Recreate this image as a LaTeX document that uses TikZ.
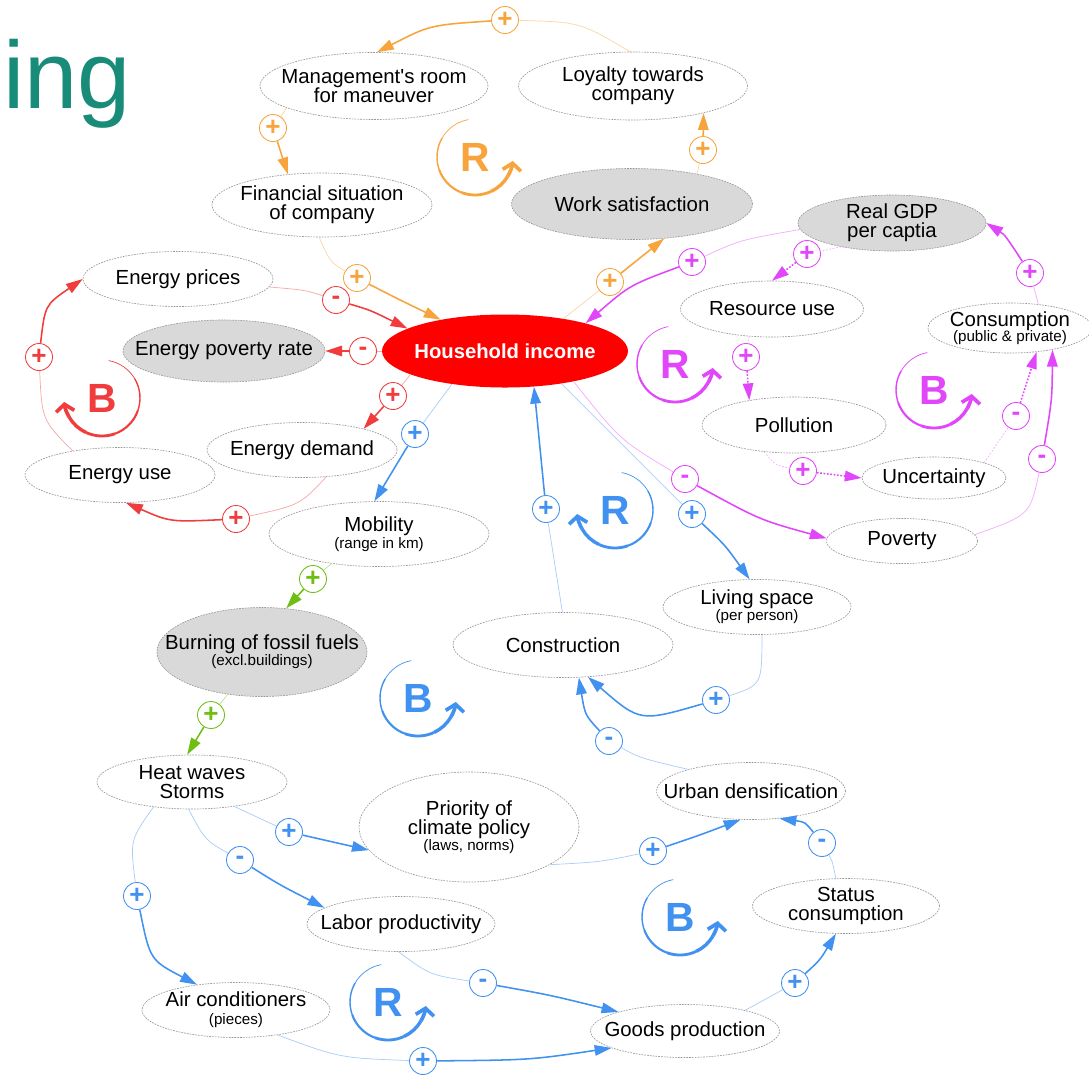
\documentclass[tikz,border=0pt]{standalone}
\usepackage{fontspec}
\setmainfont{Liberation Sans}[Ligatures=TeXOff]
\usetikzlibrary{shapes.geometric,arrows.meta,calc}
\definecolor{corange}{RGB}{247,164,60}
\definecolor{cred}{RGB}{240,60,60}
\definecolor{cblue}{RGB}{64,145,240}
\definecolor{cgreen}{RGB}{110,190,20}
\definecolor{cpink}{RGB}{225,70,250}
\definecolor{cgray}{RGB}{217,217,217}
\definecolor{cteal}{RGB}{24,140,120}
\definecolor{hhred}{RGB}{255,0,0}
\definecolor{bordergray}{RGB}{150,150,150}
\newcommand{\smallf}{\fontsize{10.8}{11}\selectfont}
\newcommand{\loopccw}[5]{%
  \node[looplet, text=#5] (#1) at (#2,#3) {#4};
  \foreach \sa/\ea/\lw in {-100/-150/0.5, -150/-200/1.0, -200/-250/1.5, -250/-295/2.0, -295/-330/2.4}{
    \draw[#5, line width=\lw pt] (#1.center) ++(\sa:38) arc[start angle=\sa, end angle=\ea, radius=38];
  }
  \draw[#5, line width=2.6pt, -{Straight Barb[length=5pt,width=13pt]}] (#1.center) ++(-330:38) arc[start angle=-330, end angle=-354, radius=38];
}
\newcommand{\loopcw}[5]{%
  \node[looplet, text=#5] (#1) at (#2,#3) {#4};
  \foreach \sa/\ea/\lw in {-80/-30/0.5, -30/20/1.0, 20/70/1.5, 70/115/2.0, 115/150/2.4}{
    \draw[#5, line width=\lw pt] (#1.center) ++(\sa:38) arc[start angle=\sa, end angle=\ea, radius=38];
  }
  \draw[#5, line width=2.6pt, -{Straight Barb[length=5pt,width=13pt]}] (#1.center) ++(150:38) arc[start angle=150, end angle=174, radius=38];
}
\begin{document}
\begin{tikzpicture}[x=0.025cm,y=-0.025cm,
  el/.style 2 args={ellipse, draw=bordergray, dash pattern=on 1.2pt off 0.8pt, line width=0.45pt, fill=white, inner sep=0pt, minimum width=#1*0.025cm, minimum height=#2*0.025cm},
  gel/.style 2 args={el={#1}{#2}, fill=cgray},
  lbl/.style={align=center, inner sep=0pt, font=\fontsize{14.5}{13.8}\selectfont, text=black},
  sgn/.style={circle, draw=#1, fill=white, line width=0.6pt, minimum size=0.675cm, inner sep=0pt, text=#1, font=\fontsize{18.5}{18}\selectfont\bfseries},
  src/.style={draw=#1!45, line width=0.5pt},
  tgt/.style={draw=#1, line width=1.1pt, -{Triangle[length=12pt,width=7.5pt]}},
  dots/.style={dash pattern=on 1.2pt off 1.2pt},
  looplet/.style={inner sep=0pt, font=\fontsize{29}{29}\selectfont\bfseries}
]
\fill[white] (0,0) rectangle (1089,1074);
\useasboundingbox (0,0) rectangle (1089,1074);

\node[anchor=base west, inner sep=0pt, text=cteal, font=\fontsize{68}{68}\selectfont] (title) at (3,108) {ing};

% ---- concept nodes
\node[el={228}{67}, label={[lbl]center:{Management's room\\for maneuver}}] (mgmt) at (374,86) {};
\node[el={229}{68}, label={[lbl]center:{Loyalty towards\\company}}] (loyal) at (633,86) {};
\node[el={220}{64}, label={[lbl]center:{Financial situation\\of company}}] (fin) at (322,205) {};
\node[gel={241}{71}, label={[lbl]center:{Work satisfaction}}] (work) at (632,204) {};
\node[el={190}{55}, label={[lbl]center:{Energy prices}}] (ep) at (178,279) {};
\node[gel={202}{62}, label={[lbl]center:{Energy poverty rate}}] (epr) at (224,351) {};
\node[ellipse, fill=hhred, inner sep=0pt, minimum width=246*0.025cm, minimum height=73*0.025cm,
      label={[lbl, text=white, font=\fontsize{14.4}{14}\selectfont\bfseries]center:{Household income}}] (hh) at (505,351) {};
\node[el={190}{55}, label={[lbl]center:{Energy demand}}] (ed) at (302,450) {};
\node[el={190}{55}, label={[lbl]center:{Energy use}}] (eu) at (120,475) {};
\node[el={220}{65}, label={[lbl]center:{Mobility\\[-2pt]{\smallf (range in km)}}}] (mob) at (379,534) {};
\node[gel={210}{89}, label={[lbl]center:{Burning of fossil fuels\\[-2.5pt]{\smallf (excl.buildings)}}}] (burn) at (262,652) {};
\node[el={190}{54}, label={[lbl]center:{Heat waves\\Storms}}] (heat) at (192,782) {};
\node[el={220}{110}, label={[lbl]center:{Priority of\\climate policy\\[-2.5pt]{\smallf (laws, norms)}}}] (prio) at (469,827) {};
\node[el={188}{55}, label={[lbl]center:{Labor productivity}}] (lab) at (401,924) {};
\node[el={188}{55}, label={[lbl]center:{Air conditioners\\[-1pt]{\smallf (pieces)}}}] (ac) at (236,1010) {};
\node[el={189}{53}, label={[lbl]center:{Goods production}}] (gp) at (685,1031) {};
\node[el={187}{55}, label={[lbl]center:{Status\\consumption}}] (sc) at (846,906) {};
\node[el={189}{57}, label={[lbl]center:{Urban densification}}] (ud) at (751,791) {};
\node[el={220}{65}, label={[lbl]center:{Construction}}] (const) at (563,645) {};
\node[el={188}{55}, label={[lbl]center:{Living space\\[-2.5pt]{\smallf (per person)}}}] (ls) at (757,607) {};
\node[gel={188}{56}, label={[lbl]center:{Real GDP\\per captia}}] (gdp) at (892,223) {};
\node[el={183}{56}, label={[lbl]center:{Resource use}}] (ru) at (772,309) {};
\node[el={164}{50}, label={[lbl]center:{Consumption\\[-3pt]{\smallf (public \& private)}}}] (cons) at (1010,328) {};
\node[el={184}{56}, label={[lbl]center:{Pollution}}] (pol) at (794,425) {};
\node[el={144}{42}, label={[lbl]center:{Uncertainty}}] (unc) at (934,478) {};
\node[el={151}{45}, label={[lbl]center:{Poverty}}] (pov) at (902,541) {};

% ---- loop markers
\loopccw{L1}{475}{157}{R}{corange}
\loopcw{L2}{102}{398}{B}{cred}
\loopccw{L3}{675}{364}{R}{cpink}
\loopccw{L4}{934}{390}{B}{cpink}
\loopcw{L5}{615}{510}{R}{cblue}
\loopccw{L6}{418}{698}{B}{cblue}
\loopccw{L7}{680}{917}{B}{cblue}
\loopccw{L8}{388}{1002}{R}{cblue}

% ---- sign nodes
\node[sgn=corange] (s1) at (505,20) {+};
\node[sgn=corange] (s2) at (273,128) {+};
\node[sgn=corange] (s3) at (357,278) {+};
\node[sgn=corange] (s4) at (610,282) {+};
\node[sgn=corange] (s5) at (703,150) {+};
\node[sgn=cred] (s6) at (336,300) {-};
\node[sgn=cred] (s7) at (363,351) {-};
\node[sgn=cred] (s8) at (393,396) {+};
\node[sgn=cred] (s9) at (236,519) {+};
\node[sgn=cred] (s10) at (39,357) {+};
\node[sgn=cblue] (s11) at (415,434) {+};
\node[sgn=cblue] (s12) at (546,509) {+};
\node[sgn=cblue] (s13) at (692,514) {+};
\node[sgn=cblue] (s14) at (716,700) {+};
\node[sgn=cblue] (s15) at (609,741) {-};
\node[sgn=cblue] (s16) at (289,832) {+};
\node[sgn=cblue] (s17) at (653,851) {+};
\node[sgn=cblue] (s18) at (240,860) {-};
\node[sgn=cblue] (s19) at (137,896) {+};
\node[sgn=cblue] (s20) at (483,983) {-};
\node[sgn=cblue] (s21) at (423,1061) {+};
\node[sgn=cblue] (s22) at (795,983) {+};
\node[sgn=cblue] (s23) at (822,843) {-};
\node[sgn=cgreen] (s24) at (313,579) {+};
\node[sgn=cgreen] (s25) at (211,715) {+};
\node[sgn=cpink] (s26) at (692,262) {+};
\node[sgn=cpink] (s27) at (807,254) {+};
\node[sgn=cpink] (s28) at (746,357) {+};
\node[sgn=cpink] (s29) at (803,471) {+};
\node[sgn=cpink] (s30) at (1016,416) {-};
\node[sgn=cpink] (s31) at (1042,459) {-};
\node[sgn=cpink] (s32) at (685,479) {-};
\node[sgn=cpink] (s33) at (1030,273) {+};

% ---- connectors
% orange
\draw[src=corange] (loyal.95) .. controls (580,22) .. (s1);
\draw[tgt=corange] (s1) .. controls (430,25) .. (mgmt.85);
\draw[src=corange] (mgmt.194) -- (s2);
\draw[tgt=corange] (s2) -- (fin.138);
\draw[src=corange] (fin.-95) .. controls (330,262) .. (s3);
\draw[tgt=corange] (s3) .. controls (400,300) .. (hh.154);
\draw[src=corange] (hh.29) -- (s4);
\draw[tgt=corange] (s4) -- (work.-47);
\draw[src=corange] (work.25) -- (s5);
\draw[tgt=corange] (s5) -- (loyal.-21);
% red
\draw[src=cred] (ep.-5) .. controls (305,290) .. (s6);
\draw[tgt=cred] (s6) .. controls (370,310) .. (hh.167);
\draw[src=cred] (hh.west) -- (s7);
\draw[tgt=cred] (s7) -- (epr.east);
\draw[src=cred] (hh.194) -- (s8);
\draw[tgt=cred] (s8) -- (ed.19);
\draw[src=cred] (ed.-48) .. controls (300,505) .. (s9);
\draw[tgt=cred] (s9) .. controls (170,522) .. (eu.-78);
\draw[src=cred] (eu.153) .. controls (42,420) .. (s10);
\draw[tgt=cred] (s10) .. controls (45,305) .. (ep.180);
% blue
\draw[src=cblue] (hh.212) -- (s11);
\draw[tgt=cblue] (s11) -- (mob.98);
\draw[src=cblue] (const.91) -- (s12);
\draw[tgt=cblue] (s12) -- (hh.-51);
\draw[src=cblue] (hh.-30) -- (s13);
\draw[tgt=cblue] (s13) .. controls (725,545) .. (ls.105);
\draw[src=cblue] (ls.-80) .. controls (762,685) .. (s14);
\draw[tgt=cblue] (s14) .. controls (640,722) .. (const.-52);
\draw[src=cblue] (ud.161) .. controls (640,758) .. (s15);
\draw[tgt=cblue] (s15) .. controls (585,715) .. (const.-64);
\draw[src=cblue] (heat.-30) -- (s16);
\draw[tgt=cblue] (s16) -- (prio.193);
\draw[src=cblue] (prio.-25) .. controls (600,862) .. (s17);
\draw[tgt=cblue] (s17) .. controls (700,835) .. (ud.-110);
\draw[src=cblue] (heat.-97) .. controls (205,840) .. (s18);
\draw[tgt=cblue] (s18) .. controls (280,885) .. (lab.168);
\draw[src=cblue] (heat.213) .. controls (130,840) .. (s19);
\draw[tgt=cblue] (s19) .. controls (150,960) .. (ac.147);
\draw[src=cblue] (lab.-95) .. controls (430,975) .. (s20);
\draw[tgt=cblue] (s20) .. controls (550,995) .. (gp.164);
\draw[src=cblue] (ac.-31) .. controls (340,1058) .. (s21);
\draw[tgt=cblue] (s21) .. controls (530,1060) .. (gp.193);
\draw[src=cblue] (gp.19) -- (s22);
\draw[tgt=cblue] (s22) .. controls (820,960) .. (sc.-110);
\draw[src=cblue] (sc.110) .. controls (832,860) .. (s23);
\draw[tgt=cblue] (s23) .. controls (805,822) .. (ud.-44);
% green
\draw[src=cgreen] (mob.212) -- (s24);
\draw[tgt=cgreen] (s24) -- (burn.61);
\draw[src=cgreen] (burn.231) -- (s25);
\draw[tgt=cgreen] (s25) -- (heat.100);
% pink
\draw[src=cpink] (gdp.184) .. controls (740,240) .. (s26);
\draw[tgt=cpink] (s26) .. controls (630,285) .. (hh.19);
\draw[src=cpink, dots] (gdp.205) -- (s27);
\draw[tgt=cpink, dots] (s27) -- (ru.north);
\draw[src=cpink, dots] (ru.-130) -- (s28);
\draw[tgt=cpink, dots] (s28) -- (pol.151);
\draw[src=cpink, dots] (pol.-138) .. controls (775,465) .. (s29);
\draw[tgt=cpink, dots] (s29) -- (unc.west);
\draw[src=cpink, dots] (unc.17) -- (s30);
\draw[tgt=cpink, dots] (s30) -- (cons.-42);
\draw[src=cpink] (pov.5) .. controls (1030,515) .. (s31);
\draw[tgt=cpink] (s31) .. controls (1052,400) .. (cons.-27);
\draw[src=cpink] (hh.-24) .. controls (620,440) .. (s32);
\draw[tgt=cpink] (s32) .. controls (760,520) .. (pov.178);
\draw[src=cpink] (cons.40) -- (s33);
\draw[tgt=cpink] (s33) .. controls (1005,235) .. (gdp.east);
\end{tikzpicture}
\end{document}
